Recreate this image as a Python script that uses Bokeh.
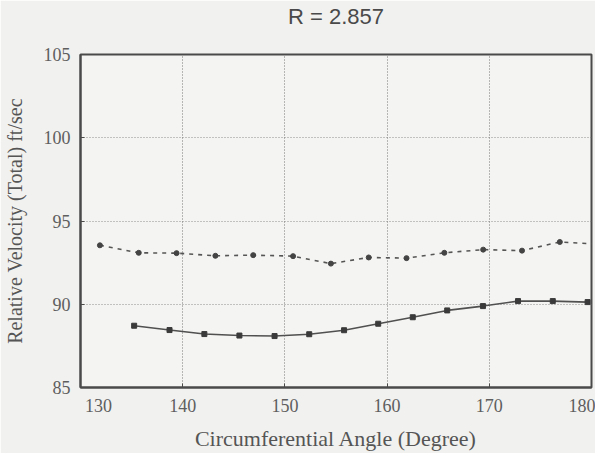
from bokeh.plotting import figure
from bokeh.embed import file_html
from bokeh.resources import INLINE
from bokeh.models import FixedTicker, Range1d, LinearAxis

# Data
angle_dashed = [131.9, 135.7, 139.4, 143.2, 146.9, 150.8, 154.5, 158.2, 161.9, 165.6, 169.4, 173.2, 176.9, 180.4]
vel_dashed = [93.54, 93.09, 93.07, 92.91, 92.95, 92.89, 92.44, 92.81, 92.77, 93.09, 93.28, 93.22, 93.74, 93.62]

angle_solid = [135.25, 138.71, 142.12, 145.55, 148.99, 152.38, 155.79, 159.13, 162.51, 165.88, 169.38, 172.81, 176.21, 179.62]
vel_solid = [88.71, 88.45, 88.21, 88.12, 88.09, 88.20, 88.44, 88.83, 89.22, 89.63, 89.89, 90.19, 90.19, 90.13]

x_ticks = [130, 140, 150, 160, 170, 180]
y_ticks = [85, 90, 95, 100, 105]

title_text = "R = 2.857"
x_label = "Circumferential Angle (Degree)"
y_label = "Relative Velocity (Total) ft/sec"

ink = "#4a4a4a"
serif = "Liberation Serif"
nb = "\u00a0"

p = figure(width=595, height=453, output_backend="svg", toolbar_location=None,
           x_range=Range1d(130, 180), y_range=Range1d(85, 105),
           min_border_left=76, min_border_right=4, min_border_top=54, min_border_bottom=61,
           background_fill_color="#f4f4f2", border_fill_color="#f1f1ef")
p.title.visible = False

bottom = p.below[0]
left = p.left[0]

p.outline_line_color = ink
p.outline_line_width = 2

for ax in (bottom, left):
    ax.axis_line_color = ink
    ax.axis_line_width = 2
    ax.major_tick_in = 4
    ax.major_tick_out = 0
    ax.major_tick_line_color = ink
    ax.minor_tick_line_color = None
    ax.major_label_text_font = serif
    ax.major_label_text_font_size = "18px"
    ax.major_label_text_color = "#5e5e5e"
    ax.axis_label_text_font = serif
    ax.axis_label_text_font_style = "normal"
    ax.axis_label_text_color = "#555555"

bottom.axis_label_text_font_size = "22px"
left.axis_label_text_font_size = "20px"

bottom.ticker = FixedTicker(ticks=x_ticks)
left.ticker = FixedTicker(ticks=y_ticks)
bottom.major_label_overrides = {130: nb * 8 + "130"}
bottom.axis_label = x_label
left.axis_label = y_label
bottom.major_label_standoff = 8
bottom.axis_label_standoff = 7
left.major_label_standoff = 10
left.axis_label_standoff = 15

# title as the label of a bare axis above the frame
top = LinearAxis(ticker=FixedTicker(ticks=[]), axis_line_color=None,
                 major_tick_line_color=None, minor_tick_line_color=None,
                 axis_label=title_text, axis_label_standoff=26,
                 axis_label_text_font="Liberation Sans", axis_label_text_font_size="22px",
                 axis_label_text_font_style="normal", axis_label_text_color="#4a4a4a")
p.add_layout(top, "above")

p.xgrid.ticker = FixedTicker(ticks=[140, 150, 160, 170])
p.ygrid.ticker = FixedTicker(ticks=[90, 95, 100])
for g in (p.xgrid, p.ygrid):
    g.grid_line_color = "#777777"
    g.grid_line_dash = "1 2"
    g.grid_line_width = 1
p.ygrid.grid_line_alpha = 0.8

p.line(angle_dashed, vel_dashed, line_color="#555555", line_width=1.6, line_dash="4 5")
p.scatter(angle_dashed, vel_dashed, marker="circle", size=5, fill_color="#444444", line_color="#444444")

p.line(angle_solid, vel_solid, line_color="#505050", line_width=1.6)
p.scatter(angle_solid, vel_solid, marker="square", size=5, fill_color="#3a3a3a", line_color="#3a3a3a")

open("out.html", "w").write(file_html(p, INLINE))
